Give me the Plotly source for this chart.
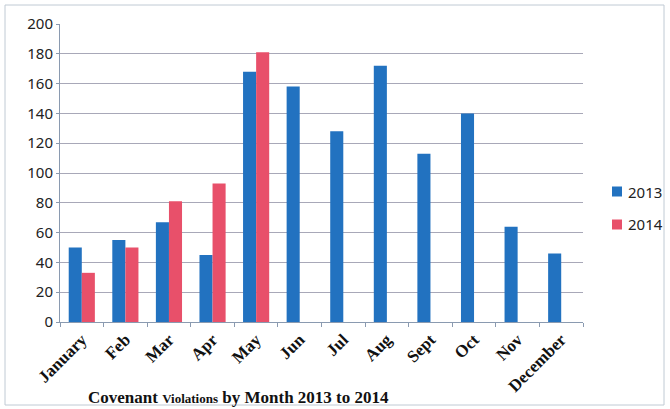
import plotly.graph_objects as go

months = ["January", "Feb", "Mar", "Apr", "May", "Jun", "Jul", "Aug", "Sept", "Oct", "Nov", "December"]
v2013 = [50, 55, 67, 45, 168, 158, 128, 172, 113, 140, 64, 46]
v2014 = [33, 50, 81, 93, 181, None, None, None, None, None, None, None]
y_ticks = [0, 20, 40, 60, 80, 100, 120, 140, 160, 180, 200]
series_names = ["2013", "2014"]
series_colors = ["#2272c0", "#e8506a"]

L, T, W, H = 60, 24, 523, 298
def px(x):
    return (x - L) / W
def py(y):
    return (T + H - y) / H

fig = go.Figure()
fig.add_trace(go.Bar(x=months, y=v2013, name=series_names[0],
                     marker=dict(color=series_colors[0], line=dict(width=0))))
fig.add_trace(go.Bar(x=months, y=v2014, name=series_names[1],
                     marker=dict(color=series_colors[1], line=dict(width=0))))

annotations = [dict(
    text="<b>Covenant <span style='font-size:13px'>Violations</span> by Month 2013 to 2014</b>",
    xref="paper", yref="paper", x=px(238), y=py(397),
    xanchor="center", yanchor="middle", showarrow=False,
    font=dict(family="Liberation Serif", size=17, color="#111"),
)]
shapes = [dict(type="rect", xref="paper", yref="paper",
               x0=px(5), x1=px(664), y0=py(405), y1=py(5),
               line=dict(color="#c0cad4", width=1), layer="below")]

# manual legend
for i, (name, col) in enumerate(zip(series_names, series_colors)):
    cy = 191.5 + i * 33
    shapes.append(dict(type="rect", xref="paper", yref="paper",
                       x0=px(612), x1=px(622), y0=py(cy + 5), y1=py(cy - 5),
                       fillcolor=col, line=dict(width=0)))
    annotations.append(dict(text=name, xref="paper", yref="paper", x=px(626), y=py(cy),
                            xanchor="left", yanchor="middle", showarrow=False,
                            font=dict(family="Noto Sans", size=15, color="#222")))

fig.update_layout(
    width=670, height=409,
    margin=dict(l=60, r=87, t=24, b=87),
    paper_bgcolor="white", plot_bgcolor="white",
    barmode="group", bargap=0.4, bargroupgap=0,
    showlegend=False,
    xaxis=dict(
        automargin=False,
        tickangle=-45, tickson="boundaries", ticks="outside", ticklen=4, tickcolor="#8a9ab0",
        showline=True, linecolor="#8a9ab0", linewidth=1,
        tickfont=dict(family="Liberation Serif", size=17, color="#111", weight="bold"),
    ),
    yaxis=dict(
        automargin=False,
        range=[0, 200], tickvals=y_ticks, showgrid=True, gridcolor="#a8a8b8", gridwidth=1,
        showline=True, linecolor="#8a9ab0", linewidth=1, ticks="outside", ticklen=3, tickcolor="#8a9ab0",
        tickfont=dict(family="Noto Sans", size=15, color="#222"),
        zeroline=False,
    ),
    annotations=annotations,
    shapes=shapes,
)

fig.write_html("out.html", config={"displayModeBar": False},
               post_script="document.body.style.margin='0';document.body.style.overflow='hidden';")
